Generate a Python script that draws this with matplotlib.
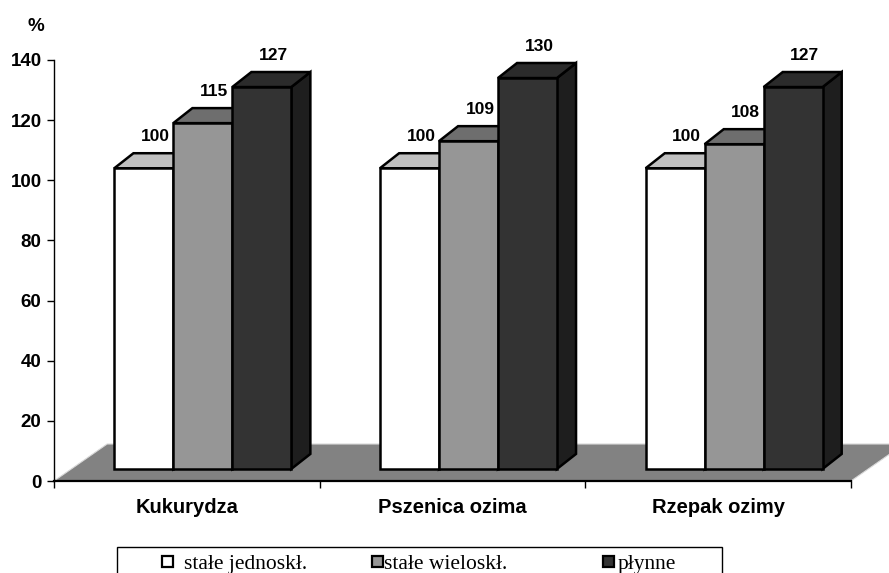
import matplotlib.pyplot as plt
from matplotlib.patches import Polygon, Rectangle

crops = ["Kukurydza", "Pszenica ozima", "Rzepak ozimy"]
series = ["stałe jednoskł.", "stałe wieloskł.", "płynne"]
stale_jedn = [100, 100, 100]
stale_wielo = [115, 109, 108]
plynne = [127, 130, 127]
yticks = [0, 20, 40, 60, 80, 100, 120, 140]

# front / top / side shading per series
front_c = ["#ffffff", "#969696", "#333333"]
top_c = ["#c0c0c0", "#6e6e6e", "#2b2b2b"]
side_c = ["#d0d0d0", "#5a5a5a", "#1e1e1e"]

plt.rcParams['font.family'] = ['Liberation Sans', 'DejaVu Sans']

fig = plt.figure(figsize=(8.89, 5.73), dpi=100)
ax = fig.add_axes([54 / 889, 92 / 573, 797 / 889, 421 / 573])
ax.set_xlim(0, 3)
ax.set_ylim(0, 140)

# pseudo-3D geometry in data units
shift_x, shift_y = 0.06, 4.0      # bar plane behind the axis plane
depth_x, depth_y = 0.072, 5.0     # bar depth
floor_x, floor_y = 0.2, 12.3      # floor depth
bar_w = 0.222

floor = Polygon([(0, 0), (3, 0), (3 + floor_x, floor_y), (floor_x, floor_y)],
                closed=True, facecolor="#828282", edgecolor="#d8d8d8",
                lw=0.8, zorder=1, clip_on=False)
ax.add_patch(floor)

values = [stale_jedn, stale_wielo, plynne]
edge = dict(edgecolor="black", lw=1.8, joinstyle="miter", clip_on=False)
for i in range(len(crops)):
    left0 = i + 0.5 - 1.5 * bar_w + shift_x
    for s in range(len(series)):
        v = values[s][i]
        x0 = left0 + s * bar_w
        x1 = x0 + bar_w
        y0 = shift_y
        y1 = v + shift_y
        z = 3 + s
        side = Polygon([(x1, y0), (x1 + depth_x, y0 + depth_y),
                        (x1 + depth_x, y1 + depth_y), (x1, y1)],
                       facecolor=side_c[s], zorder=z, **edge)
        top = Polygon([(x0, y1), (x1, y1), (x1 + depth_x, y1 + depth_y),
                       (x0 + depth_x, y1 + depth_y)],
                      facecolor=top_c[s], zorder=z, **edge)
        front = Rectangle((x0, y0), bar_w, v, facecolor=front_c[s],
                          zorder=z, **edge)
        ax.add_patch(side)
        ax.add_patch(top)
        ax.add_patch(front)
        ax.text(x0 + bar_w / 2 + depth_x * 0.6, y1 + depth_y + 3.0, str(v),
                ha="center", va="bottom", fontsize=12.5, fontweight="bold",
                zorder=10)

# category names under each group
for i, name in enumerate(crops):
    ax.text(i + 0.5, -8.7, name, ha="center", va="center",
            fontsize=14.5, fontweight="bold")

ax.text(-0.07, 151, "%", ha="center", va="center", fontsize=13.5,
        fontweight="bold", clip_on=False)

ax.set_yticks(yticks)
ax.set_yticklabels([str(t) for t in yticks], fontsize=13.5, fontweight="bold")
ax.set_xticks([0, 1, 2, 3])
ax.set_xticklabels([])
ax.tick_params(axis="both", direction="out", length=5, width=1,
               color="black", pad=4)
for sp in ["top", "right"]:
    ax.spines[sp].set_visible(False)
ax.spines["left"].set_linewidth(1)
ax.spines["bottom"].set_linewidth(1.6)
ax.spines["bottom"].set_zorder(2)
ax.set_facecolor("none")

# legend box, running past the lower figure edge
fig.patches.append(Rectangle((117 / 889, -0.02), 605 / 889, (573 - 547) / 573 + 0.02,
                             transform=fig.transFigure, facecolor="white",
                             edgecolor="black", lw=1))
mark_x = [162, 372, 603]
text_x = [184, 384, 618]
for s, name in enumerate(series):
    fig.patches.append(Rectangle(((mark_x[s]) / 889, (573 - 567) / 573),
                                 11 / 889, 11 / 573, transform=fig.transFigure,
                                 facecolor=front_c[s], edgecolor="black", lw=1.6))
    fig.text(text_x[s] / 889, (573 - 569) / 573, name, ha="left", va="baseline",
             fontsize=15.5, family=["Liberation Serif", "DejaVu Serif"])

fig.savefig("out.png", dpi=100)
